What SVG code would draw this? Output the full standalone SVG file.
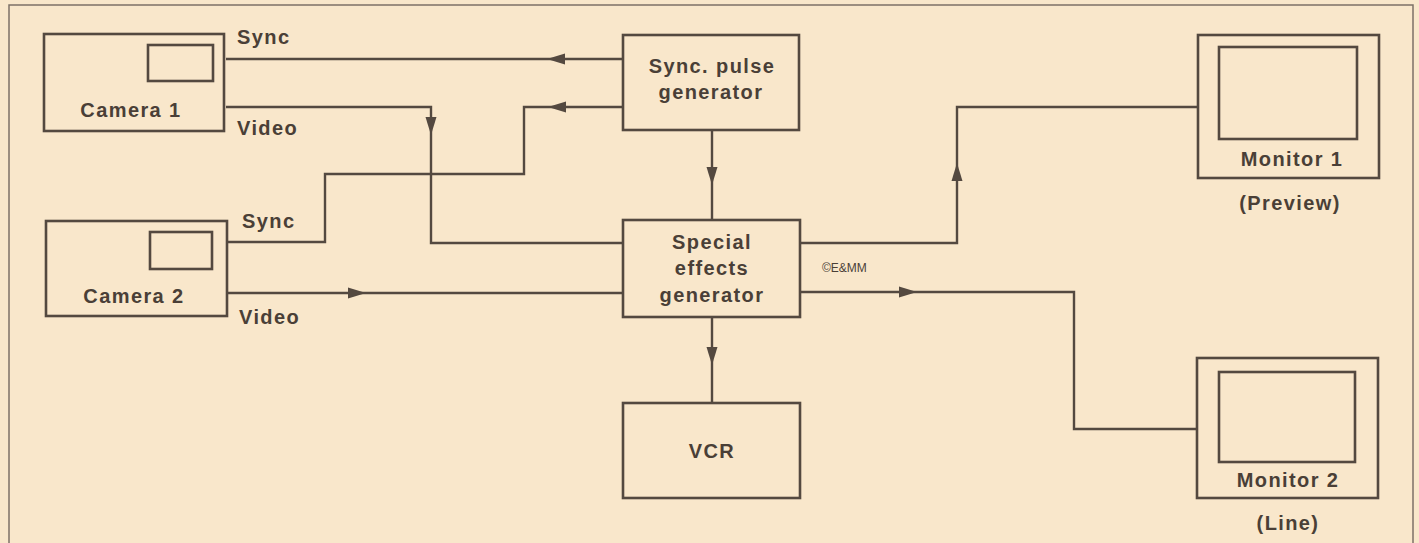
<svg xmlns="http://www.w3.org/2000/svg" width="1419" height="543" viewBox="0 0 1419 543">
<style>
.bg{fill:#f9e7cb}
.frame{fill:none;stroke:#7d7268;stroke-width:1.5}
.box{fill:none;stroke:#544940;stroke-width:2.6}
.wire{fill:none;stroke:#544940;stroke-width:2.4;stroke-linejoin:miter}
.ah{fill:#544940}
.t{font-family:"Liberation Sans",Arial,sans-serif;font-weight:bold;font-size:20px;letter-spacing:1.4px;fill:#4a3f37}
.c{text-anchor:middle}
.s{font-family:"Liberation Sans",Arial,sans-serif;font-size:12px;fill:#4a3f37}
</style>
<defs>
<path id="arrow" d="M0,0 L-18,-5.5 L-18,5.5 Z"/>
</defs>
<rect class="bg" x="0" y="0" width="1419" height="543"/>
<path class="frame" d="M9,543 V5 H1413 V543"/>

<g id="connectors">
<path class="wire" d="M226,59 H623"/>
<path class="wire" d="M226,107 H431 V243 H623"/>
<path class="wire" d="M623,107 H524 V174 H325 V242 H228"/>
<path class="wire" d="M228,293 H623"/>
<path class="wire" d="M712,130 V220"/>
<path class="wire" d="M712,317 V403"/>
<path class="wire" d="M800,243 H957 V107 H1198"/>
<path class="wire" d="M800,292 H1074 V429 H1197"/>
<use class="ah" href="#arrow" transform="translate(547,59) rotate(180)"/>
<use class="ah" href="#arrow" transform="translate(431,135) rotate(90)"/>
<use class="ah" href="#arrow" transform="translate(548,107) rotate(180)"/>
<use class="ah" href="#arrow" transform="translate(366,293)"/>
<use class="ah" href="#arrow" transform="translate(712,185) rotate(90)"/>
<use class="ah" href="#arrow" transform="translate(712,365) rotate(90)"/>
<use class="ah" href="#arrow" transform="translate(957,163) rotate(-90)"/>
<use class="ah" href="#arrow" transform="translate(917,292)"/>
<text class="t" x="237" y="44">Sync</text>
<text class="t" x="237" y="135">Video</text>
<text class="t" x="242" y="228">Sync</text>
<text class="t" x="239" y="324">Video</text>
<text class="s" x="822" y="272">©E&amp;MM</text>
</g>

<g id="camera1">
<rect class="box" x="44" y="34" width="180" height="97"/>
<rect class="box" x="148" y="45" width="65" height="36"/>
<text class="t c" x="131" y="117">Camera 1</text>
</g>

<g id="camera2">
<rect class="box" x="46" y="221" width="181" height="95"/>
<rect class="box" x="150" y="232" width="62" height="37"/>
<text class="t c" x="134" y="303">Camera 2</text>
</g>

<g id="sync-pulse-generator">
<rect class="box" x="623" y="35" width="176" height="95"/>
<text class="t c" x="712" y="73">Sync. pulse</text>
<text class="t c" x="711" y="99">generator</text>
</g>

<g id="special-effects-generator">
<rect class="box" x="623" y="220" width="177" height="97"/>
<text class="t c" x="712" y="249">Special</text>
<text class="t c" x="712" y="275">effects</text>
<text class="t c" x="712" y="302">generator</text>
</g>

<g id="vcr">
<rect class="box" x="623" y="403" width="177" height="95"/>
<text class="t c" x="712" y="458">VCR</text>
</g>

<g id="monitor1">
<rect class="box" x="1198" y="35" width="181" height="143"/>
<rect class="box" x="1219" y="47" width="138" height="92"/>
<text class="t c" x="1292" y="166">Monitor 1</text>
<text class="t c" x="1290" y="210">(Preview)</text>
</g>

<g id="monitor2">
<rect class="box" x="1197" y="358" width="181" height="140"/>
<rect class="box" x="1219" y="372" width="136" height="90"/>
<text class="t c" x="1288" y="487">Monitor 2</text>
<text class="t c" x="1288" y="530">(Line)</text>
</g>
</svg>
